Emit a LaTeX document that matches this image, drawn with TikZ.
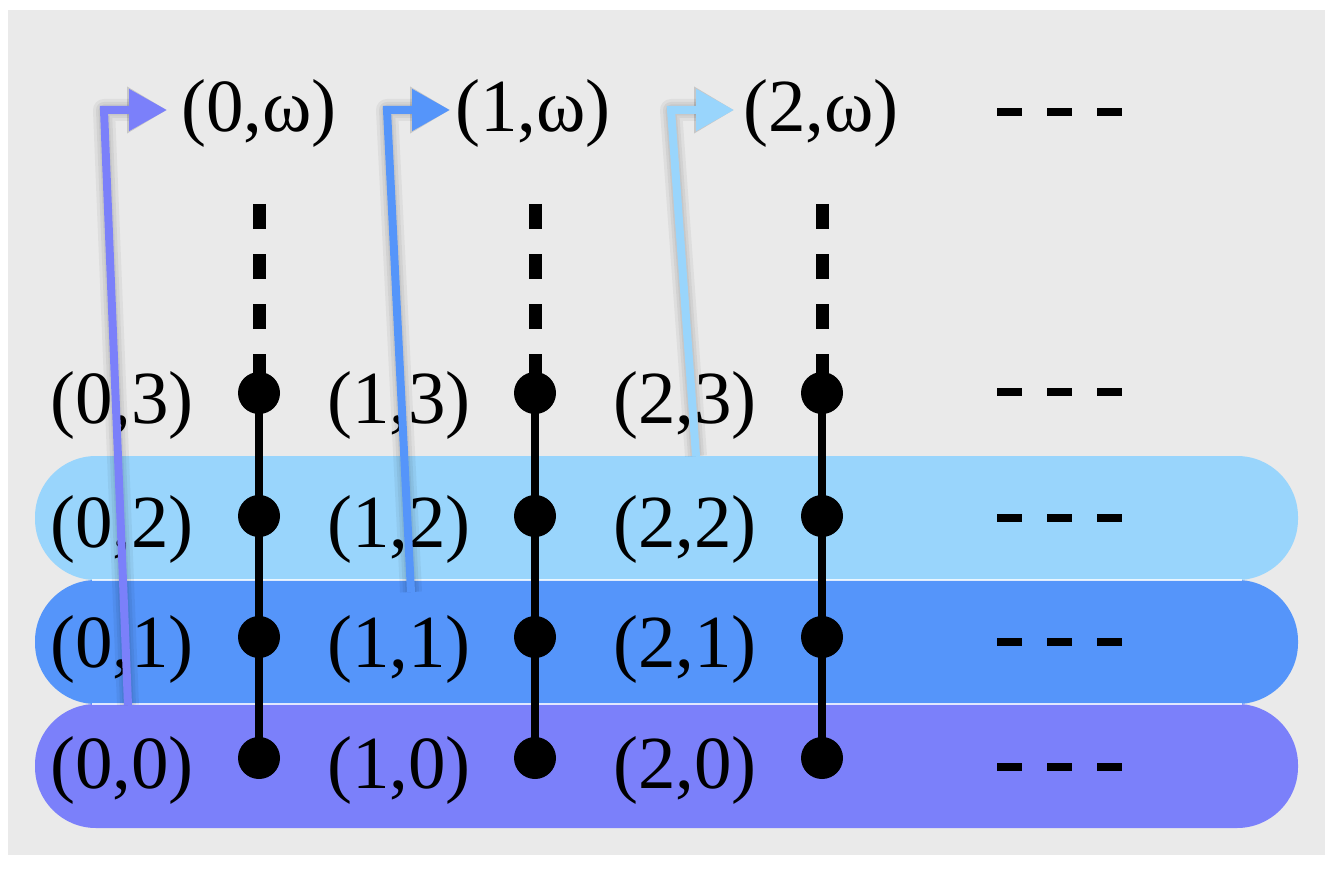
\documentclass[tikz,border=0pt]{standalone}
\usepackage{fontspec}
\setmainfont{Liberation Serif}
\usetikzlibrary{arrows.meta}
\definecolor{bggray}{HTML}{EAEAEA}
\definecolor{bandlight}{HTML}{99D5FC}
\definecolor{bandmid}{HTML}{5595FA}
\definecolor{bandpurple}{HTML}{7B80FA}
\tikzset{
  band/.style={rounded corners=61pt},
  bandsep/.style={draw=white, opacity=0.8, line width=1.2pt},
  dotnode/.style={circle, fill=black, inner sep=0pt, minimum size=42pt},
  lbl/.style={inner sep=0pt, anchor=base, font=\fontsize{75}{82}\selectfont},
  toplbl/.style={inner sep=0pt, anchor=base west, font=\fontsize{75}{82}\selectfont},
  solidline/.style={line width=8pt, black},
  dashline/.style={line width=13pt, black, dash pattern=on 25pt off 25pt},
  ellipsisline/.style={line width=8.5pt, black, dash pattern=on 25pt off 25pt},
  arr/.style={line width=8pt, line join=miter, -{Triangle[length=38pt,width=40pt]}},
  arrshadow/.style={line width=#1, line join=round, black, opacity=0.05, -{Triangle[length=40pt,width=44pt]}},
}
\begin{document}
\begin{tikzpicture}[x=1pt,y=-1pt]
\useasboundingbox (0,0) rectangle (1335,869);
\fill[bggray] (8,10) rectangle (1325,855);
% bands
\path[band, fill=bandpurple] (35,704) rectangle (1298,828);
\path[band, fill=bandmid] (35,580) rectangle (1298,704);
\path[band, fill=bandlight] (35,456) rectangle (1298,580);
\draw[bandsep] (92,580) -- (1242,580);
\draw[bandsep] (92,704) -- (1242,704);
% dots
\foreach \c/\x in {0/259,1/535,2/822}{
  \node[dotnode] (d\c0) at (\x,758) {};
  \node[dotnode] (d\c1) at (\x,637) {};
  \node[dotnode] (d\c2) at (\x,516) {};
  \node[dotnode] (d\c3) at (\x,393) {};
  \coordinate (t\c) at (\x,204);
  \draw[solidline] (d\c0.center) -- (d\c3.center);
  \draw[dashline] (t\c) -- (d\c3.center);
}
% labels
\foreach \c/\x in {0/122,1/399,2/685}{
  \node[lbl] (l\c3) at (\x,423) {(\c,3)};
  \node[lbl] (l\c2) at (\x,547) {(\c,2)};
  \node[lbl] (l\c1) at (\x,667) {(\c,1)};
  \node[lbl] (l\c0) at (\x,788) {(\c,0)};
}
\node[toplbl] (w0) at (181,132) {(0,ω)};
\node[toplbl] (w1) at (455,132) {(1,ω)};
\node[toplbl] (w2) at (743,132) {(2,ω)};
% ellipses
\foreach \y in {112,392,518,642,767}{
  \draw[ellipsisline] (997,\y) -- (1125,\y);
}
% arrows
\coordinate (s0) at (128,705); \coordinate (c0) at (104,110); \coordinate (e0) at (167,110);
\coordinate (s1) at (411,592); \coordinate (c1) at (387,110); \coordinate (e1) at (450,110);
\coordinate (s2) at (696,456); \coordinate (c2) at (671,110); \coordinate (e2) at (734,110);
\foreach \i/\col in {0/bandpurple,1/bandmid,2/bandlight}{
  \begin{scope}[shift={(5,6)}]
    \draw[arrshadow=22pt] (s\i) -- (c\i) -- (e\i);
    \draw[arrshadow=16pt] (s\i) -- (c\i) -- (e\i);
    \draw[arrshadow=11pt] (s\i) -- (c\i) -- (e\i);
  \end{scope}
  \draw[arr, \col] (s\i) -- (c\i) -- (e\i);
}
\end{tikzpicture}
\end{document}
